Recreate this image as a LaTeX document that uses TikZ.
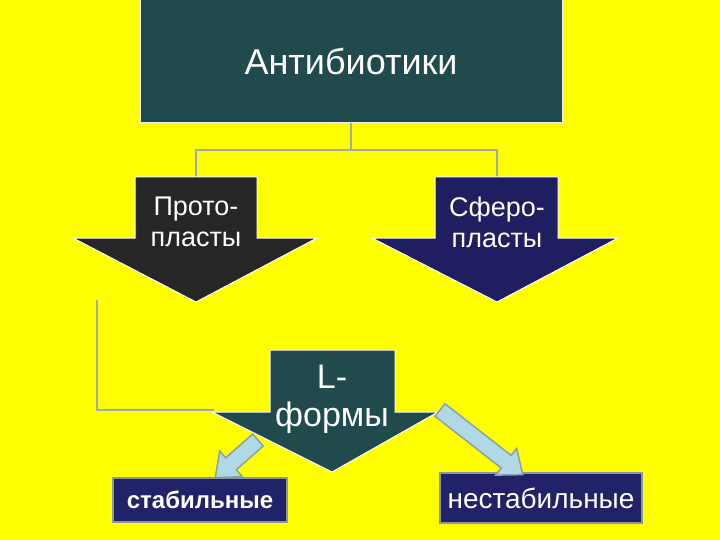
\documentclass[tikz,border=0pt]{standalone}
\usepackage{fontspec}
\setmainfont{Liberation Sans}
\definecolor{bgyellow}{RGB}{255,255,0}
\definecolor{tealbox}{RGB}{33,74,76}
\definecolor{darkarr}{RGB}{38,38,38}
\definecolor{navyarr}{RGB}{30,30,96}
\definecolor{navybox}{RGB}{34,34,104}
\definecolor{boxedge}{RGB}{140,150,160}
\definecolor{connline}{RGB}{160,172,180}
\definecolor{lightfill}{RGB}{176,216,230}
\definecolor{lightedge}{RGB}{140,160,170}
\newcommand\blockarr[4]{%
  \begin{scope}[shift={(#1,#2)}, rotate=#3]
    \draw[lightarr] (0,8) -- (#4-21,8) -- (#4-21,17) -- (#4,0) -- (#4-21,-17) -- (#4-21,-8) -- (0,-8) -- cycle;
  \end{scope}}
\begin{document}
\begin{tikzpicture}[x=1pt,y=-1pt,
  conn/.style={draw=connline, line width=2pt},
  bigarr/.style={draw=white, line width=1pt},
  arrtext/.style={text=white, align=center, inner sep=0pt},
  lightarr/.style={fill=lightfill, draw=lightedge, line width=1.5pt, line join=miter},
  smallbox/.style={fill=navybox, draw=boxedge, line width=2pt, text=white, inner sep=0pt}]
\fill[bgyellow] (0,0) rectangle (720,540);
\useasboundingbox (0,0) rectangle (720,540);

% top box
\node[fill=tealbox, draw=white!85!gray, line width=1pt, minimum width=422pt, minimum height=123pt, text=white, inner sep=0pt,
  font=\fontsize{36}{40}\selectfont] (ab) at (351,61.5) {Антибиотики};

% connectors
\coordinate (split) at (351,150);
\coordinate (protoTop) at (196,177);
\coordinate (spheroTop) at (497,177);
\draw[conn] (ab.south) -- (split) -| (protoTop);
\draw[conn] (split) -| (spheroTop);

% Protoplasts arrow
\fill[darkarr] (135,177) -- (257,177) -- (257,238) -- (317,238) -- (196,302) -- (73,238) -- (135,238) -- cycle;
\draw[bigarr] (135,177) -- (257,177) -- (257,238) -- (317,238) -- (196,302) -- (73,238) -- (135,238) -- cycle;
\node[arrtext, font=\fontsize{27}{31}\selectfont] (proto) at (196,222) {Прото-\\пласты};

% Spheroplasts arrow
\draw[bigarr, fill=navyarr] (435,177) -- (558,177) -- (558,238) -- (618,238) -- (497,302) -- (372,238) -- (435,238) -- cycle;
\node[arrtext, font=\fontsize{27}{31}\selectfont] (sphero) at (497,222) {Сферо-\\пласты};

% bracket line
\coordinate (brk) at (97,300);
\coordinate (lhead) at (214,410);
\draw[conn] (brk) |- (lhead);

% L-forms arrow
\draw[bigarr, fill=tealbox] (270,350) -- (395,350) -- (395,412) -- (438,412) -- (332,472) -- (212,412) -- (270,412) -- cycle;
\node[arrtext, font=\fontsize{34}{38}\selectfont] (lforms) at (332,399) {L-\\формы};

% left light arrow and stable box
\blockarr{258}{440}{-138.6}{57}
\node[smallbox, minimum width=174pt, minimum height=44pt, font=\fontsize{24}{28}\selectfont\bfseries] (stab) at (200,500) {стабильные};

% unstable box and right light arrow
\node[smallbox, minimum width=202pt, minimum height=50pt, font=\fontsize{28}{32}\selectfont] (unstab) at (541,498) {нестабильные};
\blockarr{440}{410}{-38}{105}
\end{tikzpicture}
\end{document}
